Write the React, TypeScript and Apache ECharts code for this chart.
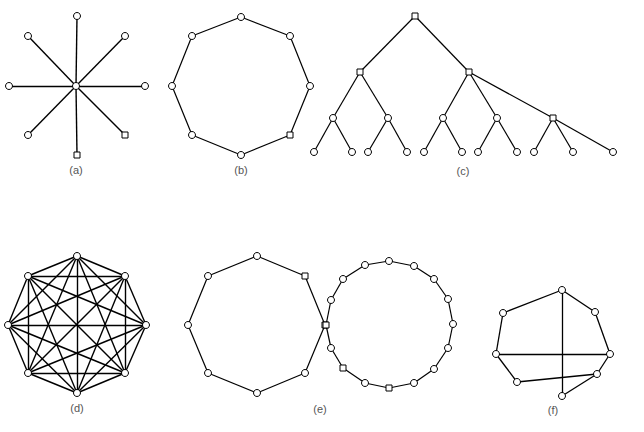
import React, { useEffect, useRef } from 'react';
import * as echarts from 'echarts';

// node coordinates (page pixels) and links for each topology
const starNodes = [[76, 86], [77, 16], [125, 36], [145, 86], [125, 135], [77, 155], [28, 135], [9, 86], [28, 36]];
const starLinks = [[0, 1], [0, 2], [0, 3], [0, 4], [0, 5], [0, 6], [0, 7], [0, 8]];
const starSquares = [4, 5];

const ringNodes = [[241, 17], [290, 36], [310, 86], [290, 135], [241, 155], [192, 135], [172, 86], [192, 36]];
const ringLinks = [[0, 1], [1, 2], [2, 3], [3, 4], [4, 5], [5, 6], [6, 7], [7, 0]];
const ringSquares = [3];

const treeNodes = [
  [415, 16],
  [360, 72], [469, 72],
  [333, 118], [388, 118], [443, 118], [497, 118], [553, 118],
  [314, 152], [352, 152], [368, 152], [407, 152], [424, 152], [462, 152],
  [478, 152], [517, 152], [534, 152], [573, 152], [613, 152],
];
const treeLinks = [
  [0, 1], [0, 2], [1, 3], [1, 4], [2, 5], [2, 6], [2, 7],
  [3, 8], [3, 9], [4, 10], [4, 11], [5, 12], [5, 13], [6, 14], [6, 15],
  [7, 16], [7, 17], [7, 18],
];
const treeSquares = [0, 1, 2, 7];

const meshNodes = [[77, 256], [125, 276], [146, 325], [125, 373], [77, 393], [28, 373], [8, 325], [28, 276]];

const ringANodes = [[257, 256], [305, 276], [325, 325], [305, 373], [257, 393], [208, 373], [188, 325], [208, 276]];
const ringALinks = [[0, 1], [1, 2], [2, 3], [3, 4], [4, 5], [5, 6], [6, 7], [7, 0]];
const ringASquares = [1, 2];

const ringBNodes = [
  [326, 325], [331, 300], [343, 279], [365, 265], [389, 261], [414, 266], [434, 279], [448, 299],
  [453, 324], [448, 348], [434, 369], [414, 383], [389, 388], [365, 383], [343, 368], [331, 348],
];
const ringBSquares = [0, 12, 14];

const irregNodes = [[562, 290], [595, 312], [610, 354], [597, 374], [562, 396], [517, 382], [496, 354], [503, 313]];
const irregLinks = [[0, 1], [1, 2], [2, 3], [3, 4], [3, 5], [5, 6], [6, 7], [7, 0], [0, 4], [6, 2]];

const captions = ['(a)', '(b)', '(c)', '(d)', '(e)', '(f)'];
const captionPos = [[76, 170], [241, 170], [463, 171], [77, 408], [320, 409], [553, 410]];

const cycle = (n: number) => Array.from({ length: n }, (_, i) => [i, (i + 1) % n]);
const allPairs = (n: number) => {
  const out: number[][] = [];
  for (let i = 0; i < n; i++) for (let j = i + 1; j < n; j++) out.push([i, j]);
  return out;
};

const makeGraph = (nodes: number[][], links: number[][], squares: number[], width = 1.2) => ({
  type: 'graph',
  coordinateSystem: 'cartesian2d',
  layout: 'none',
  symbolSize: 7,
  itemStyle: { color: '#fff', borderColor: '#000', borderWidth: 1 },
  lineStyle: { color: '#000', width, opacity: 1, curveness: 0 },
  emphasis: { disabled: true },
  data: nodes.map((p, i) => ({
    value: p,
    symbol: squares.includes(i) ? 'rect' : 'circle',
    symbolSize: squares.includes(i) ? 6 : 7,
  })),
  links: links.map(([s, t]) => ({ source: s, target: t })),
});

const App: React.FC = () => {
  const chartRef = useRef<HTMLDivElement>(null);

  useEffect(() => {
    document.body.style.margin = '0';
    if (!chartRef.current) return;
    const chart = echarts.init(chartRef.current, null, { renderer: 'svg' });

    chart.setOption({
      animation: false,
      backgroundColor: '#fff',
      grid: { left: 0, right: 0, top: 0, bottom: 0 },
      xAxis: { type: 'value', min: 0, max: 644, show: false },
      yAxis: { type: 'value', min: 0, max: 432, inverse: true, show: false },
      graphic: captions.map((c, i) => ({
        type: 'text',
        x: captionPos[i][0],
        y: captionPos[i][1],
        style: {
          text: c,
          fill: '#555',
          font: '11px "Liberation Sans", Arial, sans-serif',
          textAlign: 'center',
          textVerticalAlign: 'middle',
        },
      })),
      series: [
        makeGraph(starNodes, starLinks, starSquares, 1.4),
        makeGraph(ringNodes, ringLinks, ringSquares),
        makeGraph(treeNodes, treeLinks, treeSquares),
        makeGraph(meshNodes, allPairs(meshNodes.length), [], 1.4),
        makeGraph(ringANodes, ringALinks, ringASquares),
        makeGraph(ringBNodes, cycle(ringBNodes.length), ringBSquares),
        makeGraph(irregNodes, irregLinks, [], 1.3),
      ],
    });

    return () => {
      chart.dispose();
    };
  }, []);

  return <div ref={chartRef} style={{ width: '644px', height: '432px' }} />;
};

export default App;
